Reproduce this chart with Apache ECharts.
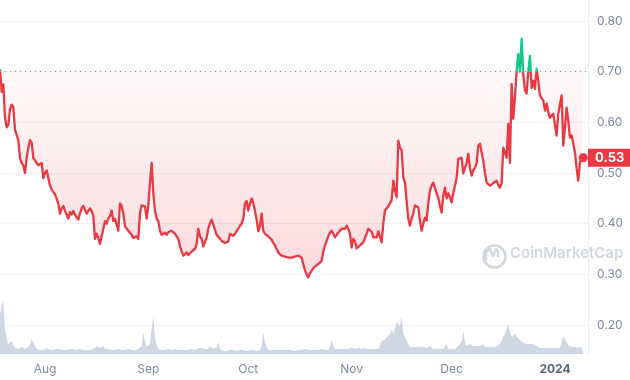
<!DOCTYPE html>
<html><head><meta charset="utf-8">
<script src="https://cdn.jsdelivr.net/npm/echarts@6/dist/echarts.min.js"></script>
<style>html,body{margin:0;padding:0;background:#fff}#c{width:630px;height:380px}</style>
</head><body><div id="c"></div>
<script>
// ---- data ----
const seriesStart = '2023-07-18T12:00:00Z';   // first sample
const stepHours = 12;                           // sampling step
const axisStart = '2023-07-18T12:00:00Z';
const axisEnd   = '2024-01-10T22:00:00Z';
const baselinePrice = 0.70;                     // dotted reference line
const priceMin = 0.2, priceMax = 0.8, priceStep = 0.1;
const monthNames = ['Jan','Feb','Mar','Apr','May','Jun','Jul','Aug','Sep','Oct','Nov','Dec'];

const price = [
0.705,0.66,0.675,0.61,0.59,0.595,0.625,0.635,0.63,0.585,
0.575,0.565,0.53,0.52,0.515,0.50,0.53,0.55,0.565,0.56,
0.53,0.525,0.523,0.515,0.512,0.52,0.49,0.50,0.505,0.49,
0.475,0.468,0.462,0.458,0.455,0.44,0.42,0.43,0.435,0.425,
0.418,0.41,0.423,0.418,0.425,0.418,0.412,0.408,0.42,0.43,
0.435,0.433,0.42,0.425,0.43,0.425,0.415,0.37,0.38,0.372,
0.36,0.375,0.39,0.405,0.40,0.41,0.415,0.426,0.405,0.41,
0.412,0.386,0.44,0.435,0.42,0.395,0.39,0.386,0.382,0.378,
0.372,0.371,0.375,0.37,0.42,0.436,0.435,0.434,0.41,0.435,
0.48,0.52,0.46,0.425,0.41,0.405,0.386,0.378,0.38,0.382,
0.378,0.383,0.38,0.386,0.383,0.38,0.378,0.37,0.355,0.345,
0.337,0.34,0.343,0.338,0.34,0.345,0.347,0.35,0.36,0.39,
0.375,0.37,0.355,0.358,0.372,0.39,0.40,0.408,0.398,0.388,
0.378,0.374,0.371,0.366,0.363,0.362,0.361,0.365,0.38,0.378,
0.376,0.38,0.383,0.39,0.396,0.40,0.41,0.44,0.445,0.426,
0.44,0.45,0.44,0.425,0.408,0.385,0.395,0.42,0.386,0.38,
0.377,0.375,0.373,0.368,0.362,0.357,0.35,0.343,0.34,0.337,
0.338,0.335,0.337,0.333,0.334,0.333,0.334,0.335,0.333,0.337,
0.336,0.333,0.32,0.308,0.30,0.294,0.302,0.307,0.312,0.31,
0.318,0.316,0.323,0.327,0.345,0.357,0.36,0.375,0.382,0.386,
0.38,0.373,0.378,0.382,0.386,0.39,0.392,0.39,0.396,0.39,
0.38,0.353,0.37,0.365,0.351,0.354,0.357,0.36,0.363,0.372,
0.38,0.39,0.387,0.384,0.373,0.375,0.373,0.385,0.388,0.363,
0.40,0.426,0.43,0.434,0.44,0.446,0.485,0.465,0.452,0.564,
0.55,0.545,0.492,0.481,0.445,0.41,0.396,0.41,0.42,0.436,
0.434,0.432,0.406,0.386,0.40,0.412,0.406,0.44,0.465,0.475,
0.481,0.47,0.46,0.451,0.435,0.422,0.455,0.471,0.45,0.46,
0.452,0.442,0.46,0.475,0.49,0.528,0.526,0.53,0.499,0.51,
0.519,0.538,0.51,0.495,0.505,0.51,0.519,0.554,0.558,0.54,
0.524,0.50,0.481,0.478,0.475,0.476,0.48,0.482,0.485,0.476,
0.471,0.48,0.55,0.54,0.53,0.597,0.52,0.676,0.607,0.65,
0.70,0.735,0.70,0.765,0.695,0.663,0.657,0.70,0.731,0.668,
0.682,0.666,0.706,0.682,0.653,0.648,0.643,0.623,0.637,0.62,
0.609,0.612,0.617,0.595,0.574,0.617,0.619,0.653,0.554,0.59,
0.629,0.603,0.57,0.574,0.558,0.54,0.509,0.485,0.52,0.53,
0.53
];

// relative traded volume (arbitrary units)
const volume = [
40,48,53,25,15,10,11,13,9,6,
6,5,6,7,6,5,6,7,10,15,
12,8,5,5,4,5,4,5,6,5,
4,5,4,4,5,4,5,4,4,5,
4,4,5,4,5,5,4,4,5,4,
4,5,4,5,4,4,5,4,8,6,
6,5,8,5,4,5,4,4,5,4,
4,5,4,4,5,4,4,5,4,4,
5,4,4,5,4,8,21,12,7,6,
10,25,38,15,10,5,4,4,5,4,
4,5,4,4,4,5,4,4,5,4,
4,4,5,4,4,5,4,4,5,6,
8,6,5,5,5,5,8,6,5,5,
7,12,5,4,3,4,3,4,4,3,
4,4,3,4,4,3,4,4,3,4,
4,3,4,4,3,4,4,8,22,12,
7,4,4,4,3,4,4,4,3,4,
4,4,3,4,4,4,4,3,4,4,
4,4,4,5,4,4,4,4,5,4,
4,4,4,5,4,4,5,4,7,14,
8,5,5,5,6,5,5,5,6,5,
5,6,5,5,5,6,5,5,5,6,
5,5,6,5,5,5,6,5,7,13,
11,14,17,15,20,25,20,22,32,30,
28,38,20,17,18,10,7,7,7,6,
7,7,7,6,7,7,6,7,8,8,
5,5,5,5,5,5,5,7,10,5,
5,5,5,5,5,8,10,12,23,12,
8,9,10,8,8,8,8,8,8,9,
10,7,7,7,7,7,7,7,7,8,
10,13,17,20,22,30,22,17,15,20,
17,18,14,13,11,10,10,11,10,11,
10,8,8,7,6,5,6,5,6,5,
6,5,6,5,6,5,6,8,18,15,
13,9,7,7,6,7,6,6,6,7,
6
];
const volumeAxisMax = 354;

// ---- build ----
const t0 = Date.parse(seriesStart);
const times = price.map((_, i) => t0 + i * stepHours * 3600000);
const priceData = price.map((v, i) => [times[i], v]);
const volumeData = volume.map((v, i) => [times[i], v]);
const last = priceData[priceData.length - 1];

const RED = '#ea3943', GREEN = '#16c784', LABEL = '#808a9d';
const chart = echarts.init(document.getElementById('c'), null, {renderer: 'canvas'});
chart.setOption({
  animation: false,
  textStyle: {fontFamily: 'Inter'},
  grid: [
    {left: 0, right: 42, top: 21, bottom: 55},
    {left: 0, right: 42, top: 0, bottom: 26}
  ],
  xAxis: [
    {type: 'time', gridIndex: 0, min: Date.parse(axisStart), max: Date.parse(axisEnd), show: false},
    {type: 'time', gridIndex: 1, min: Date.parse(axisStart), max: Date.parse(axisEnd),
     splitNumber: 6, minInterval: 28 * 86400000, maxInterval: 31 * 86400000,
     axisLine: {show: false}, axisTick: {show: false}, splitLine: {show: false},
     axisLabel: {
       color: LABEL, fontSize: 12, margin: 9, hideOverlap: false,
       formatter: function (v) {
         const d = new Date(v);
         if (d.getUTCMonth() === 0) return '{b|' + d.getUTCFullYear() + '}';
         return monthNames[d.getUTCMonth()];
       },
       rich: {b: {fontWeight: 'bold', color: '#58667e', fontSize: 12, fontFamily: 'Inter'}}
     }}
  ],
  yAxis: [
    {type: 'value', gridIndex: 0, position: 'right', min: priceMin, max: priceMax, interval: priceStep,
     axisLine: {show: false}, axisTick: {show: false},
     axisLabel: {color: LABEL, fontSize: 12, margin: 9, formatter: v => v.toFixed(2)},
     splitLine: {lineStyle: {color: '#f0f2f5', width: 1}}},
    {type: 'value', gridIndex: 1, position: 'right', min: 0, max: volumeAxisMax,
     axisLine: {show: true, lineStyle: {color: '#eceef2'}}, axisTick: {show: false},
     axisLabel: {show: false}, splitLine: {show: false}}
  ],
  visualMap: {
    show: false, type: 'piecewise', seriesIndex: 1, dimension: 1,
    pieces: [{gte: 0, lte: baselinePrice, color: RED}, {gt: baselinePrice, lte: 10, color: GREEN}]
  },
  graphic: [
    {type: 'circle', left: 481, top: 243, shape: {r: 11}, style: {fill: 'none', stroke: '#d3d7de', lineWidth: 2.6}, silent: true, z: 0},
    {type: 'polyline', shape: {points: [[486, 260], [486, 252], [490, 249], [493, 256], [496, 249], [498, 251], [498, 257]]},
     style: {fill: 'none', stroke: '#d3d7de', lineWidth: 2.4, lineJoin: 'round'}, silent: true, z: 0},
    {type: 'text', left: 510, top: 246, style: {text: 'CoinMarketCap', fill: '#d3d7de', fontSize: 15, fontWeight: 600, fontFamily: 'Inter'}, silent: true, z: 0}
  ],
  series: [
    {type: 'line', xAxisIndex: 1, yAxisIndex: 1, data: volumeData, showSymbol: false,
     lineStyle: {width: 0}, itemStyle: {color: '#cfd6e4'}, areaStyle: {color: '#cfd6e4', opacity: 1}, silent: true, z: 1},
    {type: 'line', xAxisIndex: 0, yAxisIndex: 0, data: priceData, showSymbol: false,
     lineStyle: {width: 2.3, join: 'round'}, z: 3,
     areaStyle: {origin: baselinePrice,
       color: new echarts.graphic.LinearGradient(0, 0, 0, 1, [
         {offset: 0, color: 'rgba(234,57,67,0)'},
         {offset: 1, color: 'rgba(234,57,67,0.27)'}])},
     markLine: {silent: true, symbol: ['none', 'none'], animation: false,
       data: [
         {yAxis: baselinePrice, lineStyle: {type: [1, 4], color: '#8a8f99', width: 1}, label: {show: false}},
         {yAxis: last[1], lineStyle: {color: 'rgba(0,0,0,0)', width: 1},
          label: {show: true, position: 'end', distance: 0, formatter: last[1].toFixed(2),
                  backgroundColor: RED, color: '#fff', fontWeight: 'bold', fontSize: 13,
                  fontFamily: 'Inter', padding: [3, 7, 2, 7]}}
       ]}},
    {type: 'scatter', xAxisIndex: 0, yAxisIndex: 0, data: [last], symbolSize: 9,
     itemStyle: {color: RED, opacity: 1}, z: 5, silent: true}
  ]
});
</script></body></html>
